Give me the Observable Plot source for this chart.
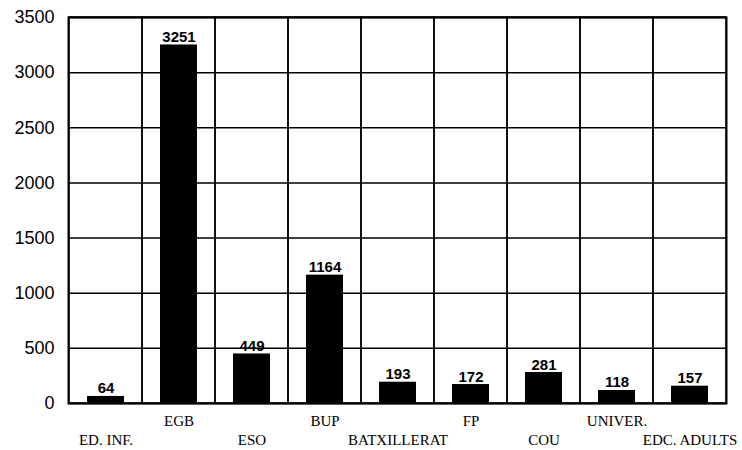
<!DOCTYPE html>
<html>
<head>
<meta charset="utf-8">
<script src="https://cdn.jsdelivr.net/npm/d3@7"></script>
<script src="https://cdn.jsdelivr.net/npm/@observablehq/plot@0.6"></script>
<style>
  html, body { margin: 0; padding: 0; background: #fff; }
  #chart svg { display: block; }
</style>
</head>
<body>
<div id="chart"></div>
<script>
const categories = ["ED. INF.", "EGB", "ESO", "BUP", "BATXILLERAT", "FP", "COU", "UNIVER.", "EDC. ADULTS"];
const values = [64, 3251, 449, 1164, 193, 172, 281, 118, 157];
const yTicks = [0, 500, 1000, 1500, 2000, 2500, 3000, 3500];

const data = categories.map((c, i) => ({category: c, value: values[i]}));
const upperLabels = categories.filter((c, i) => i % 2 === 1);
const lowerLabels = categories.filter((c, i) => i % 2 === 0);

const sans = "'Liberation Sans', Arial, sans-serif";
const serif = "'Liberation Serif', 'Times New Roman', serif";

const chart = Plot.plot({
  width: 742,
  height: 450,
  marginLeft: 68,
  marginRight: 16,
  marginTop: 17,
  marginBottom: 47,
  style: {background: "#fff", color: "#000", fontFamily: sans},
  x: {type: "band", domain: categories, padding: 0, axis: null},
  y: {domain: [0, 3500], axis: null},
  marks: [
    Plot.ruleY(yTicks, {stroke: "#000", strokeWidth: 1.5}),
    Plot.barY(categories, {x: d => d, y1: 0, y2: 3500, fill: "none", stroke: "#000", strokeWidth: 1.5}),
    Plot.frame({stroke: "#000", strokeWidth: 2}),
    Plot.barY(data, {x: "category", y: "value", fill: "#000", insetLeft: 18, insetRight: 18}),
    Plot.text(data, {x: "category", y: "value", text: d => String(d.value), lineAnchor: "bottom", dy: -3, fontSize: 15, fontWeight: 600, fontFamily: sans, fill: "#000"}),
    Plot.axisY({ticks: yTicks, tickSize: 0, tickPadding: 14, fontSize: 18, fontFamily: sans, label: null, tickFormat: d => String(d)}),
    Plot.axisX({ticks: upperLabels, tickSize: 0, tickPadding: 12, fontSize: 15, fontFamily: serif, label: null}),
    Plot.axisX({ticks: lowerLabels, tickSize: 0, tickPadding: 31, fontSize: 15, fontFamily: serif, label: null})
  ]
});
document.getElementById("chart").appendChild(chart);
</script>
</body>
</html>
